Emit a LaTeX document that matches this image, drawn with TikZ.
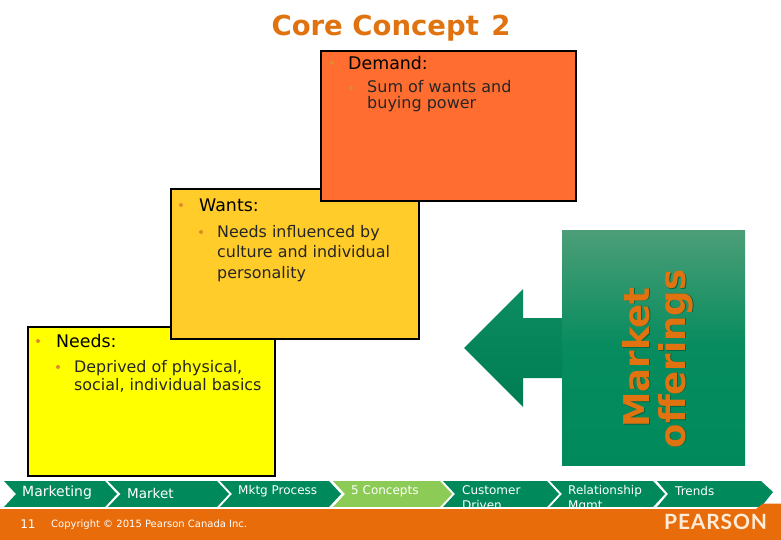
\documentclass[tikz,border=0pt]{standalone}
\usepackage{fontspec}
\setmainfont{DejaVu Sans}
\newfontfamily\logofont[LetterSpace=4]{Lato}
\definecolor{pgreen}{HTML}{008A5C}
\definecolor{pgreentop}{HTML}{4C9E78}
\definecolor{porange}{HTML}{E96C0A}
\definecolor{ptitle}{HTML}{E0730F}
\definecolor{plime}{HTML}{8CCB55}
\definecolor{pdemand}{HTML}{FF6E30}
\definecolor{pwants}{HTML}{FFCC29}
\definecolor{pyellow}{HTML}{FFFF00}
\definecolor{pbullet}{HTML}{E08A2A}
\tikzset{
 panel/.style={draw=black,line width=2pt},
 chev/.style={fill=pgreen,draw=none},
 chevtext/.style={text=white,font=\fontsize{12}{12}\selectfont,anchor=west,align=left,inner sep=0pt},
 head/.style={anchor=west,inner sep=0pt,font=\fontsize{17.4}{17.4}\selectfont,text=black},
 body/.style={anchor=north west,inner sep=0pt,align=left,text=black!85},
 bul/.style={circle,fill=pbullet,inner sep=0pt,minimum size=4pt},
 offer/.style={rotate=90,inner sep=0pt,text=ptitle,font=\fontsize{35.5}{35.5}\selectfont\bfseries},
}
\begin{document}
\begin{tikzpicture}[x=1pt,y=-1pt]
\useasboundingbox (0,0) rectangle (781,540);
\fill[white] (0,0) rectangle (781,540);
\node[anchor=center,inner sep=0pt,text=ptitle,font=\fontsize{27.5}{27.5}\selectfont\bfseries] (title) at (391,28) {Core Concept\hspace{0.45em}2};
% panels
\draw[panel,fill=pyellow] (28,327) rectangle (275,476);
\draw[panel,fill=pwants] (171,189) rectangle (419,339);
\draw[panel,fill=pdemand] (321,51) rectangle (575.5,201);
\node[bul] (b1) at (332,63) {};
\node[head] (t1) at (348,63) {Demand:};
\node[bul] (b2) at (351,88) {};
\node[body,font=\fontsize{16}{16.5}\selectfont] (t2) at (367,80) {Sum of wants and\\buying power};
\node[bul] (b3) at (181,205) {};
\node[head] (t3) at (199,205) {Wants:};
\node[bul] (b4) at (201,232) {};
\node[body,font=\fontsize{15.9}{20.5}\selectfont] (t4) at (217,225) {Needs influenced by\\culture and individual\\personality};
\node[bul] (b5) at (38,341) {};
\node[head] (t5) at (56,341) {Needs:};
\node[bul] (b6) at (58,367) {};
\node[body,font=\fontsize{15.9}{18}\selectfont] (t6) at (74,360) {Deprived of physical,\\social, individual basics};
% market offerings
\fill[top color=pgreentop,bottom color=pgreen,middle color=pgreen!92!pgreentop] (562,230) rectangle (745,465);
\shade[top color=pgreen!85!pgreentop,bottom color=pgreen!90!black] (562,318) -- (523,318) -- (523,289) -- (464,348) -- (523,407) -- (523,378) -- (562,378) -- cycle;
\node[offer,text=black!25!pgreen] (m1s) at (637,358) {Market};
\node[offer,text=black!25!pgreen] (m2s) at (677,359.5) {offerings};
\node[offer] (m1) at (636,357.5) {Market};
\node[offer] (m2) at (676,359) {offerings};
% chevrons
\fill[chev] (4,481) -- (105,481) -- (117,494) -- (105,507) -- (4,507) -- (16,494) -- cycle;
\fill[chev] (108,481) -- (217,481) -- (229,494) -- (217,507) -- (108,507) -- (120.5,494) -- cycle;
\fill[chev] (220,481) -- (329,481) -- (341,494) -- (329,507) -- (220,507) -- (232,494) -- cycle;
\fill[plime] (333,481) -- (440,481) -- (452,494) -- (440,507) -- (333,507) -- (345,494) -- cycle;
\fill[chev] (443,481) -- (547,481) -- (559,494) -- (547,507) -- (443,507) -- (455,494) -- cycle;
\fill[chev] (550,481) -- (653,481) -- (665,494) -- (653,507) -- (550,507) -- (562,494) -- cycle;
\fill[chev] (657,481) -- (761,481) -- (773,492) -- (761,507) -- (657,507) -- (668,494) -- cycle;
\node[chevtext,font=\fontsize{14}{14}\selectfont] (c1) at (22,493) {Marketing};
\node[chevtext,font=\fontsize{13.5}{13.5}\selectfont] (c2) at (127,493) {Market};
\node[chevtext] (c3) at (238,491) {Mktg Process};
\node[chevtext] (c4) at (351,491) {5 Concepts};
\node[chevtext,anchor=north west,font=\fontsize{12}{15.5}\selectfont] (c5) at (462,485) {Customer\\Driven};
\node[chevtext,anchor=north west,font=\fontsize{12}{15.5}\selectfont] (c6) at (568,485) {Relationship\\Mgmt.};
\node[chevtext] (c7) at (675,491) {Trends};
% footer
\fill[white] (0,507) rectangle (764,509);
\fill[porange] (0,509) -- (756,509) -- (763,503.5) -- (781,503.5) -- (781,540) -- (0,540) -- cycle;
\node[anchor=center,inner sep=0pt,text=white,font=\fontsize{12}{12}\selectfont] (num) at (28,524) {11};
\node[anchor=west,inner sep=0pt,text=white,font=\fontsize{10}{10}\selectfont] (copy) at (51,525) {Copyright © 2015 Pearson Canada Inc.};
\node[anchor=west,inner sep=0pt,text=white!85!orange,font=\logofont\bfseries\fontsize{21}{21}\selectfont] (logo) at (664,522) {PEARSON};
\end{tikzpicture}
\end{document}
